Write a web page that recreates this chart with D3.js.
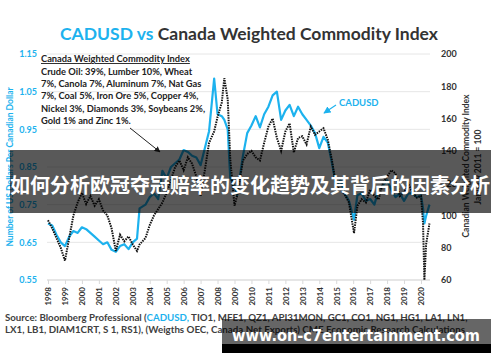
<!DOCTYPE html>
<html>
<head>
<meta charset="utf-8">
<script src="https://cdn.jsdelivr.net/npm/d3@7"></script>
<style>
  body { margin: 0; background: #fff; }
  svg { display: block; font-family: Lato, "Open Sans", sans-serif; }
</style>
</head>
<body>
<div id="chart"></div>
<script>
// CADUSD vs Canada Weighted Commodity Index, 1998-2020

// Dates (decimal years) shared by both series
const dates = [
  1998.0, 1998.25, 1998.5, 1998.75, 1999.0, 1999.25, 1999.5, 1999.75,
  2000.0, 2000.25, 2000.5, 2000.75, 2001.0, 2001.25, 2001.5, 2001.75,
  2002.0, 2002.25, 2002.5, 2002.75, 2003.0, 2003.25, 2003.4, 2003.75,
  2004.0, 2004.25, 2004.5, 2004.75, 2005.0, 2005.25, 2005.5, 2005.75,
  2006.0, 2006.25, 2006.5, 2006.75, 2007.0, 2007.25, 2007.5, 2007.8,
  2008.0, 2008.25, 2008.4, 2008.6, 2008.75, 2009.0, 2009.15, 2009.5,
  2009.75, 2010.0, 2010.25, 2010.5, 2010.75, 2011.0, 2011.25, 2011.5,
  2011.75, 2012.0, 2012.25, 2012.5, 2012.75, 2013.0, 2013.25, 2013.5,
  2013.75, 2014.0, 2014.25, 2014.5, 2014.75, 2015.0, 2015.25, 2015.5,
  2015.75, 2016.05, 2016.25, 2016.5, 2016.75, 2017.0, 2017.25, 2017.5,
  2017.75, 2018.0, 2018.25, 2018.5, 2018.75, 2019.0, 2019.25, 2019.5,
  2019.75, 2020.0, 2020.12, 2020.2, 2020.3, 2020.5
];

// US dollars per Canadian dollar (left axis)
const cadusd = [
  0.700, 0.695, 0.670, 0.650, 0.640, 0.665, 0.680, 0.675,
  0.690, 0.685, 0.675, 0.665, 0.655, 0.645, 0.650, 0.630,
  0.625, 0.640, 0.645, 0.632, 0.650, 0.660, 0.740, 0.750,
  0.770, 0.780, 0.765, 0.840, 0.820, 0.850, 0.860, 0.870,
  0.895, 0.890, 0.880, 0.875, 0.855, 0.900, 0.945, 1.085,
  0.990, 0.985, 0.975, 0.950, 0.820, 0.800, 0.775, 0.880,
  0.940, 0.960, 0.985, 0.955, 0.990, 1.010, 1.040, 1.050,
  0.975, 1.000, 1.015, 0.985, 1.010, 0.990, 0.975, 0.960,
  0.940, 0.900, 0.930, 0.915, 0.860, 0.800, 0.815, 0.780,
  0.760, 0.710, 0.775, 0.780, 0.760, 0.765, 0.750, 0.790,
  0.800, 0.815, 0.790, 0.770, 0.780, 0.760, 0.780, 0.780,
  0.770, 0.775, 0.740, 0.700, 0.720, 0.750
];

// Canadian weighted commodity index, Jan 2011 = 100 (right axis)
const commodity = [
  97, 92, 86, 80, 72, 86, 100, 108,
  114, 107, 112, 106, 110, 103, 100, 92,
  78, 88, 84, 87, 82, 78, 82, 86,
  94, 100, 104, 108, 114, 122, 130, 134,
  128, 136, 132, 124, 112, 128, 145, 152,
  161, 170, 185, 172, 135, 106, 112, 134,
  138, 140, 136, 134, 145, 155, 160, 148,
  140, 152, 157, 139, 148, 149, 144, 155,
  150, 152, 154, 147, 134, 118, 116, 113,
  108, 89, 106, 110, 108, 116, 112, 110,
  120, 124, 128, 126, 112, 114, 120, 114,
  111, 112, 95, 60, 82, 95
];

// Tick labels
const yearTicks = d3.range(1998, 2021);
const leftTicks = [0.55, 0.65, 0.75, 0.85, 0.95, 1.05, 1.15];
const rightTicks = [60, 80, 100, 120, 140, 160, 180, 200];

const noteLines = [
  "Crude Oil: 39%, Lumber 10%, Wheat",
  "7%, Canola 7%, Aluminum 7%, Nat Gas",
  "7%, Coal 5%, Iron Ore 5%, Copper 4%,",
  "Nickel 3%, Diamonds 3%, Soybeans 2%,",
  "Gold 1% and Zinc 1%."
];

const blue = "#1db2ee";
const dark = "#333";

let width = 500, height = 362;

let svg = d3.select("#chart").append("svg")
  .attr("width", width)
  .attr("height", height);

let defs = svg.append("defs");
defs.append("marker")
  .attr("id", "arrowBlack")
  .attr("viewBox", "0 0 10 10")
  .attr("refX", 9).attr("refY", 5)
  .attr("markerWidth", 6).attr("markerHeight", 6)
  .attr("orient", "auto")
  .append("path").attr("d", "M0,0L10,5L0,10z").attr("fill", "#222");
defs.append("marker")
  .attr("id", "arrowBlue")
  .attr("viewBox", "0 0 10 10")
  .attr("refX", 9).attr("refY", 5)
  .attr("markerWidth", 6).attr("markerHeight", 6)
  .attr("orient", "auto")
  .append("path").attr("d", "M0,0L10,5L0,10z").attr("fill", blue);

// Scales
let x = d3.scaleLinear().domain([1998, 2020]).range([48, 421]);
let yLeft = d3.scaleLinear().domain([0.55, 1.15]).range([280, 54]);
let yRight = d3.scaleLinear().domain([60, 200]).range([280, 54]);

// Title
let title = svg.append("text")
  .attr("x", 60).attr("y", 40)
  .attr("font-size", 17.5).attr("font-weight", "bold");
title.append("tspan").attr("fill", blue).text("CADUSD vs ");
title.append("tspan").attr("fill", dark).text(" Canada Weighted Commodity Index");

// Gridlines
svg.append("g")
  .selectAll("line")
  .data(leftTicks)
  .join("line")
  .attr("x1", 47).attr("x2", 430)
  .attr("y1", d => yLeft(d)).attr("y2", d => yLeft(d))
  .attr("stroke", "#e6e6e6").attr("stroke-width", 1);

// Left axis
let leftAxis = svg.append("g")
  .attr("transform", "translate(40,0)")
  .call(d3.axisLeft(yLeft).tickValues(leftTicks).tickSize(0).tickFormat(d3.format(".2f")));
leftAxis.select(".domain").remove();
leftAxis.selectAll("text")
  .attr("fill", blue).attr("font-size", 9).attr("font-weight", "bold")
  .attr("x", -3).attr("font-family", "Lato, sans-serif");

// Right axis
let rightAxis = svg.append("g")
  .attr("transform", "translate(441,0)")
  .call(d3.axisRight(yRight).tickValues(rightTicks).tickSize(0));
rightAxis.select(".domain").remove();
rightAxis.selectAll("text")
  .attr("fill", dark).attr("font-size", 9).attr("font-weight", "bold")
  .attr("x", 0).attr("font-family", "Lato, sans-serif");

// Bottom axis
let bottomAxis = svg.append("g")
  .attr("transform", "translate(0,280)")
  .call(d3.axisBottom(x).tickValues(yearTicks).tickSize(4).tickFormat(d3.format("d")));
bottomAxis.select(".domain").attr("stroke", "#d9d9d9").attr("d", "M47,0H430");
bottomAxis.selectAll(".tick line").attr("stroke", "#d9d9d9");
bottomAxis.selectAll("text")
  .attr("fill", dark).attr("font-size", 8).attr("font-weight", "bold")
  .attr("font-family", "Lato, sans-serif")
  .attr("transform", "rotate(-90)")
  .attr("text-anchor", "end")
  .attr("x", -7).attr("y", 0).attr("dy", "0.35em");

// Axis titles
svg.append("text")
  .attr("transform", "translate(13,167) rotate(-90)")
  .attr("text-anchor", "middle")
  .attr("fill", blue).attr("font-size", 8.5).attr("font-weight", "bold")
  .text("Number of US Dollars Per Canadian Dollar");
svg.append("text")
  .attr("transform", "translate(469,166) rotate(-90)")
  .attr("text-anchor", "middle")
  .attr("fill", dark).attr("font-size", 8.5).attr("font-weight", "bold")
  .text("Canadian Weighted Commodity Index");
svg.append("text")
  .attr("transform", "translate(481,167) rotate(-90)")
  .attr("text-anchor", "middle")
  .attr("fill", dark).attr("font-size", 8.5).attr("font-weight", "bold")
  .text("January 2011 = 100");

// Lines
let rows = dates.map((d, i) => ({date: d, cad: cadusd[i], com: commodity[i]}));

svg.append("path")
  .datum(rows)
  .attr("fill", "none")
  .attr("stroke", blue)
  .attr("stroke-width", 2.2)
  .attr("stroke-linejoin", "round")
  .attr("d", d3.line().x(d => x(d.date)).y(d => yLeft(d.cad)));

svg.append("path")
  .datum(rows)
  .attr("fill", "none")
  .attr("stroke", "#111")
  .attr("stroke-width", 2)
  .attr("stroke-dasharray", "1.5,1")
  .attr("d", d3.line().x(d => x(d.date)).y(d => yRight(d.com)));

// Composition note
let note = svg.append("g").attr("fill", "#222").attr("font-size", 9.3).attr("font-weight", "bold");
note.append("text")
  .attr("x", 41).attr("y", 62)
  .attr("text-decoration", "underline")
  .text("Canada Weighted Commodity Index");
note.selectAll(".line")
  .data(noteLines)
  .join("text")
  .attr("x", 41)
  .attr("y", (d, i) => 74.5 + i * 12.4)
  .text(d => d);

svg.append("line")
  .attr("x1", 130).attr("y1", 128).attr("x2", 160).attr("y2", 152)
  .attr("stroke", "#222").attr("stroke-width", 1)
  .attr("marker-end", "url(#arrowBlack)");

// CADUSD label
svg.append("text")
  .attr("x", 339).attr("y", 105.5)
  .attr("fill", blue).attr("font-size", 9.5).attr("font-weight", "bold")
  .text("CADUSD");
svg.append("line")
  .attr("x1", 336).attr("y1", 105).attr("x2", 324).attr("y2", 113)
  .attr("stroke", blue).attr("stroke-width", 1.2)
  .attr("marker-end", "url(#arrowBlue)");

// Source
let src = svg.append("g").attr("fill", "#404040").attr("font-size", 9.7).attr("font-weight", "bold");
let s1 = src.append("text").attr("x", 5).attr("y", 321);
s1.append("tspan").text("Source: Bloomberg Professional  (");
s1.append("tspan").attr("fill", blue).text("CADUSD,");
s1.append("tspan").text(" TIO1, MFE1, QZ1, API31MON, GC1, CO1, NG1, HG1, LA1, LN1,");
src.append("text").attr("x", 5).attr("y", 333)
  .attr("textLength", 460).attr("lengthAdjust", "spacingAndGlyphs")
  .text("LX1, LB1, DIAM1CRT, S 1, RS1), (Weigths OEC, Canada Net Exports) CME Economic Research Calculations");

// Overlay banner
svg.append("rect")
  .attr("x", 10).attr("y", 150).attr("width", 481).attr("height", 63)
  .attr("fill", "rgba(0,0,0,0.65)");
svg.append("text")
  .attr("x", 250).attr("y", 193)
  .attr("text-anchor", "middle")
  .attr("fill", "#fff").attr("font-size", 20).attr("font-weight", "bold")
  .attr("font-family", "'Noto Sans CJK SC', sans-serif")
  .text("如何分析欧冠夺冠赔率的变化趋势及其背后的因素分析");

// Watermark
svg.append("rect")
  .attr("x", 222).attr("y", 319).attr("width", 269).attr("height", 25)
  .attr("fill", "rgba(0,0,0,0.6)");
svg.append("rect")
  .attr("x", 222).attr("y", 344).attr("width", 269).attr("height", 9)
  .attr("fill", "#000");
svg.append("text")
  .attr("x", 232).attr("y", 341)
  .attr("fill", "#fff").attr("font-size", 16).attr("font-weight", "bold")
  .attr("font-family", "'DejaVu Sans', sans-serif")
  .attr("textLength", 248).attr("lengthAdjust", "spacingAndGlyphs")
  .text("www.on-c7entertainment.com");
</script>
</body>
</html>
